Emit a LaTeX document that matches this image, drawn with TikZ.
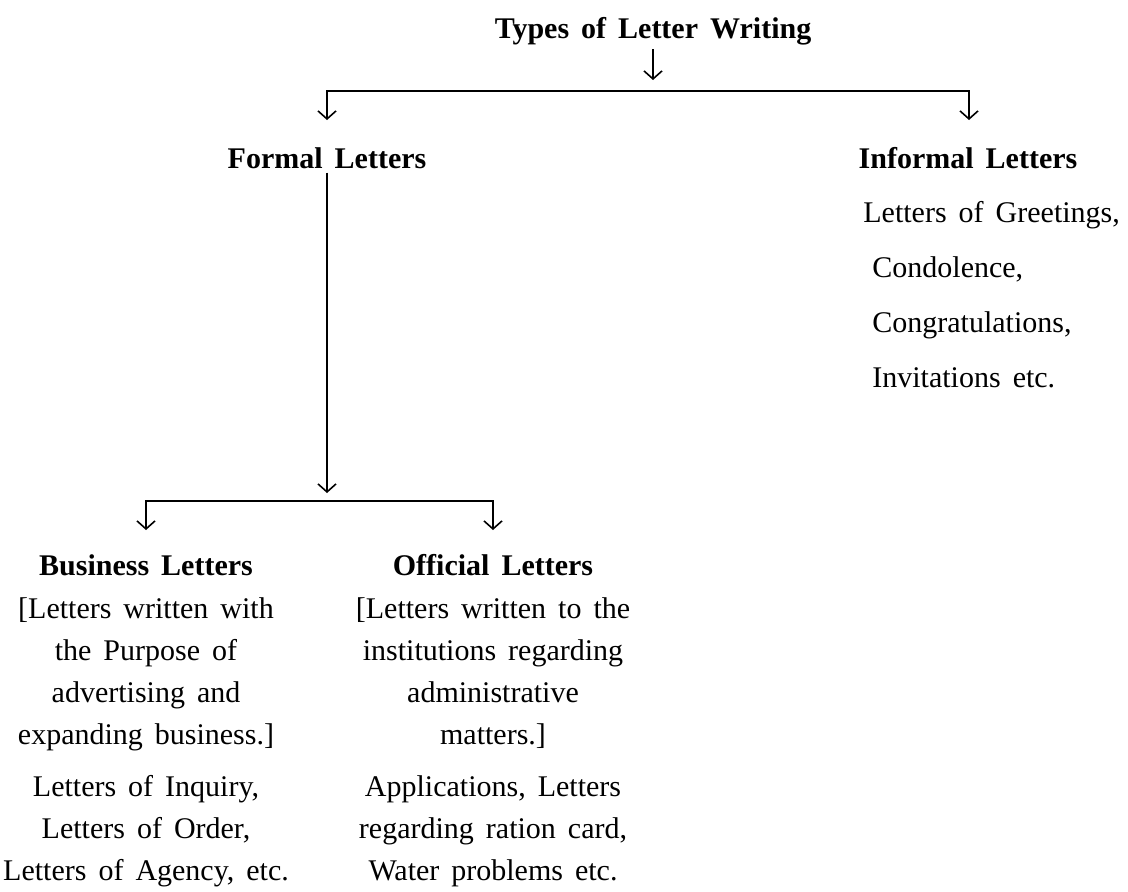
\documentclass[tikz,border=0pt]{standalone}
\usepackage{fontspec}
\setmainfont{Liberation Serif}[WordSpace=1.6]
\usepackage{tikz}
\usetikzlibrary{arrows.meta}

\tikzset{
  head/.style={font=\fontsize{15}{18}\selectfont\bfseries, inner sep=2pt, anchor=base},
  body/.style={font=\fontsize{15}{21}\selectfont, align=center, inner sep=0pt, anchor=north},
  bar/.style={line width=1.1pt, line cap=rect},
  arr/.style={line width=0.8pt, -{Straight Barb[length=4pt,width=9pt]}},
}

\begin{document}
\begin{tikzpicture}[x=0.5pt, y=-0.5pt]
  \useasboundingbox (0,0) rectangle (1128,891);

  % headings
  \node[head] (title) at (653,38) {Types of Letter Writing};
  \node[head] (formal) at (327,168) {Formal Letters};
  \node[head] (informal) at (968,168) {Informal Letters};
  \node[head] (business) at (146,575) {Business Letters};
  \node[head] (official) at (493,575) {Official Letters};

  % informal list
  \node[body, align=left, anchor=north west, font=\fontsize{15}{27.5}\selectfont] (greetings) at (863,201)
    {Letters of Greetings,\\ \hspace*{4.5pt}Condolence,\\ \hspace*{4.5pt}Congratulations,\\ \hspace*{4.5pt}Invitations etc.};

  % formal branches
  \node[body] (busdesc) at (146,597)
    {[Letters written with\\ the Purpose of\\ advertising and\\ expanding business.]\\[5pt]
     Letters of Inquiry,\\ Letters of Order,\\ Letters of Agency, etc.};
  \node[body] (offdesc) at (493,597)
    {[Letters written to the\\ institutions regarding\\ administrative\\ matters.]\\[5pt]
     Applications, Letters\\ regarding ration card,\\ Water problems etc.};

  % junction points
  \coordinate (titletip) at (653,80);
  \coordinate (barL) at (327,91);
  \coordinate (barR) at (969,91);
  \coordinate (formaltip) at (327,120);
  \coordinate (informaltip) at (969,120);
  \coordinate (splittip) at (327,493);
  \coordinate (bar2L) at (146,501);
  \coordinate (bar2R) at (493,501);
  \coordinate (bustip) at (146,530);
  \coordinate (offtip) at (493,530);

  % connectors
  \draw[arr] (title.south) -- (titletip);
  \draw[bar] (barL) -- (barR);
  \draw[arr] (barL) -- (formaltip);
  \draw[arr] (barR) -- (informaltip);
  \draw[arr] (formal.south) -- (splittip);
  \draw[bar] (bar2L) -- (bar2R);
  \draw[arr] (bar2L) -- (bustip);
  \draw[arr] (bar2R) -- (offtip);
\end{tikzpicture}
\end{document}
